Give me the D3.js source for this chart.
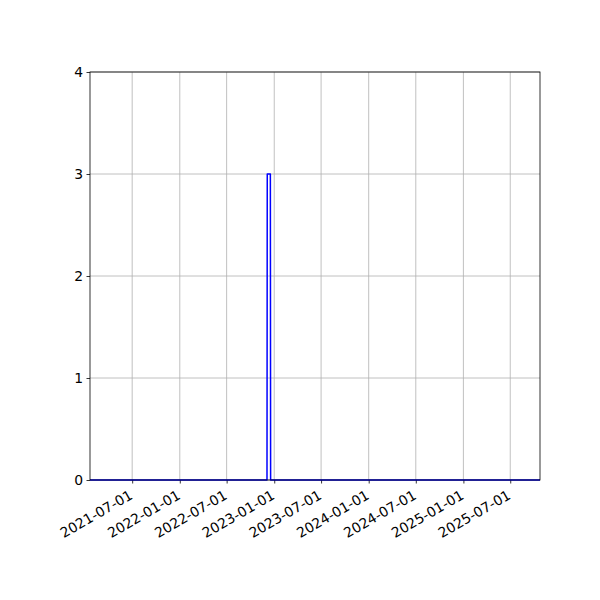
<!DOCTYPE html>
<html>
<head>
<meta charset="utf-8">
<script src="https://cdn.jsdelivr.net/npm/d3@7"></script>
<style>
  body { margin: 0; background: #fff; }
  svg text { font-family: "DejaVu Sans", sans-serif; font-size: 13.9px; fill: #000; }
</style>
</head>
<body>
<svg id="chart" width="600" height="600"></svg>
<script>
// series: counts by date (mostly zero, one spike)
const dates = ['2021-01-19', '2022-12-04', '2022-12-05', '2022-12-17', '2022-12-18', '2025-10-24'];
const counts = [0, 0, 3, 3, 0, 0];
const xTickLabels = ['2021-07-01', '2022-01-01', '2022-07-01', '2023-01-01', '2023-07-01',
                     '2024-01-01', '2024-07-01', '2025-01-01', '2025-07-01'];
const yTicks = [0, 1, 2, 3, 4];

const parse = d3.utcParse('%Y-%m-%d');
const points = dates.map((d, i) => ({ date: parse(d), value: counts[i] }));

const svg = d3.select('#chart');
const mLeft = 90, mRight = 540, mTop = 72, mBottom = 480;

const x = d3.scaleUtc()
    .domain(d3.extent(points, d => d.date))
    .range([mLeft, mRight]);
const y = d3.scaleLinear()
    .domain([0, 4])
    .range([mBottom, mTop]);

// grid
const grid = svg.append('g').attr('class', 'grid');
grid.selectAll('.vgrid')
    .data(xTickLabels)
    .enter().append('line')
        .attr('x1', d => x(parse(d))).attr('x2', d => x(parse(d)))
        .attr('y1', mTop).attr('y2', mBottom)
        .attr('stroke', '#b0b0b0').attr('stroke-width', 0.8);
grid.selectAll('.hgrid')
    .data(yTicks)
    .enter().append('line')
        .attr('x1', mLeft).attr('x2', mRight)
        .attr('y1', d => y(d)).attr('y2', d => y(d))
        .attr('stroke', '#b0b0b0').attr('stroke-width', 0.8);

// axes
const xAxis = d3.axisBottom(x)
    .tickValues(xTickLabels.map(parse))
    .tickFormat(d3.utcFormat('%Y-%m-%d'))
    .tickSize(3.5).tickPadding(3);
const gx = svg.append('g')
    .attr('transform', `translate(0,${mBottom})`)
    .call(xAxis);
gx.select('.domain').remove();
gx.selectAll('line').attr('stroke', '#000').attr('stroke-width', 0.8);
gx.selectAll('text')
    .attr('text-anchor', 'end')
    .attr('dy', null)
    .attr('y', 0)
    .attr('transform', 'translate(1,18) rotate(-30)');

const yAxis = d3.axisLeft(y)
    .tickValues(yTicks)
    .tickFormat(d3.format('d'))
    .tickSize(3.5).tickPadding(3.5);
const gy = svg.append('g')
    .attr('transform', `translate(${mLeft},0)`)
    .call(yAxis);
gy.select('.domain').remove();
gy.selectAll('line').attr('stroke', '#000').attr('stroke-width', 0.8);

// line
const line = d3.line()
    .x(d => x(d.date))
    .y(d => y(d.value));
svg.append('path')
    .datum(points)
    .attr('d', line)
    .attr('fill', 'none')
    .attr('stroke', '#0000ff')
    .attr('stroke-width', 1.5)
    .attr('stroke-linejoin', 'round');

// frame
svg.append('rect')
    .attr('x', mLeft).attr('y', mTop)
    .attr('width', mRight - mLeft).attr('height', mBottom - mTop)
    .attr('fill', 'none').attr('stroke', '#000').attr('stroke-width', 0.8);
</script>
</body>
</html>
